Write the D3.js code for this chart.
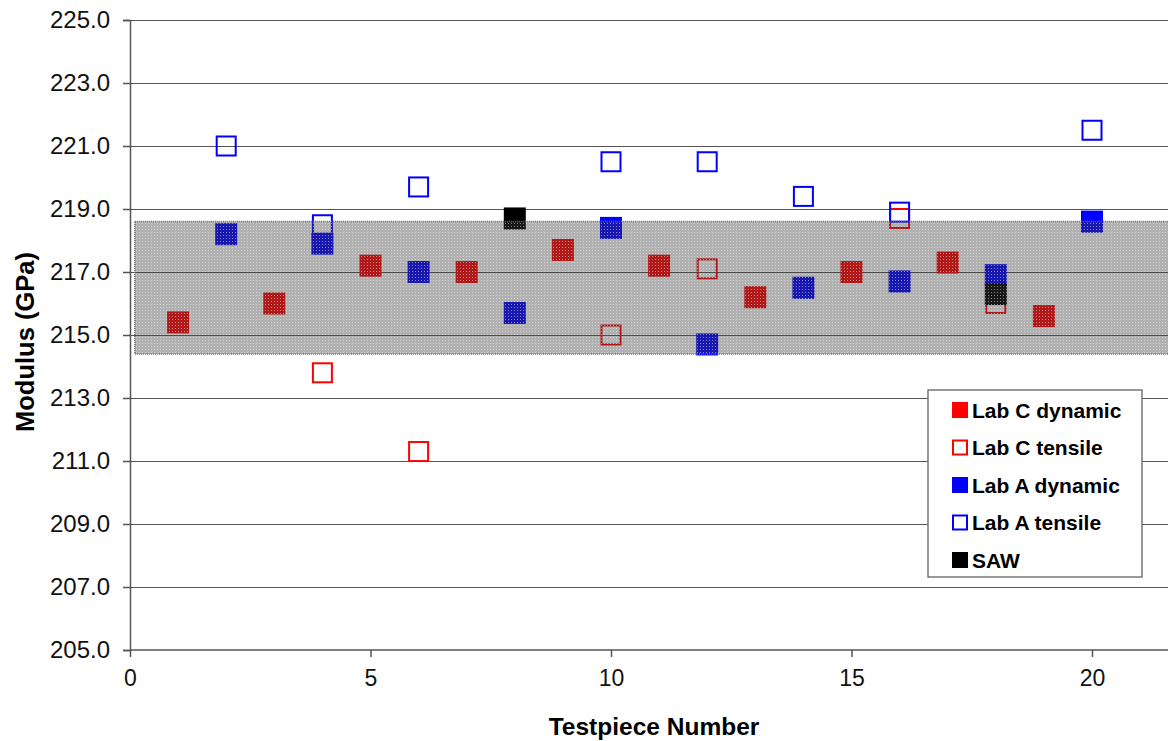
<!DOCTYPE html>
<html>
<head>
<meta charset="utf-8">
<script src="https://cdn.jsdelivr.net/npm/d3@7"></script>
<style>
  body { margin: 0; background: #fff; }
  svg { display: block; font-family: "Liberation Sans", Arial, sans-serif; }
</style>
</head>
<body>
<div id="my_dataviz"></div>
<script>
// Data
const labCDynamicX = [1, 3, 5, 7, 9, 11, 13, 15, 17, 19];
const labCDynamicY = [215.4, 216.0, 217.2, 217.0, 217.7, 217.2, 216.2, 217.0, 217.3, 215.6];

const labCTensileX = [4, 6, 10, 12, 16, 18];
const labCTensileY = [213.8, 211.3, 215.0, 217.1, 218.7, 216.0];

const labADynamicX = [2, 4, 6, 8, 10, 12, 14, 16, 18, 20];
const labADynamicY = [218.2, 217.9, 217.0, 215.7, 218.4, 214.7, 216.5, 216.7, 216.9, 218.6];

const labATensileX = [2, 4, 6, 10, 12, 14, 16, 20];
const labATensileY = [221.0, 218.5, 219.7, 220.5, 220.5, 219.4, 218.9, 221.5];

const sawX = [8, 18];
const sawY = [218.7, 216.3];

// shaded scatter band
const bandLow = 214.4;
const bandHigh = 218.6;
const bandStartX = 0.1;

const yTicks = [205, 207, 209, 211, 213, 215, 217, 219, 221, 223, 225];
const xTicks = [0, 5, 10, 15, 20];

const legendLabels = ["Lab C dynamic", "Lab C tensile", "Lab A dynamic", "Lab A tensile", "SAW"];

// Dimensions
const width = 1168;
const height = 741;
const margin = { top: 20, left: 130, bottom: 91 };

const x = d3.scaleLinear().domain([0, 22]).range([margin.left, margin.left + 22 * 48.1]);
const y = d3.scaleLinear().domain([205, 225]).range([height - margin.bottom, margin.top]);

const toPoints = (xs, ys) => xs.map((d, i) => ({ x: d, y: ys[i] }));

// draw order follows the original (tensile series underneath)
const series = [
  { name: "Lab C tensile", data: toPoints(labCTensileX, labCTensileY), color: "#ff0000", filled: false },
  { name: "Lab A tensile", data: toPoints(labATensileX, labATensileY), color: "#0000ff", filled: false },
  { name: "Lab C dynamic", data: toPoints(labCDynamicX, labCDynamicY), color: "#ff0000", filled: true },
  { name: "Lab A dynamic", data: toPoints(labADynamicX, labADynamicY), color: "#0000ff", filled: true },
  { name: "SAW", data: toPoints(sawX, sawY), color: "#000000", filled: true },
];
const styleByName = new Map(series.map((s) => [s.name, s]));

const svg = d3
  .select("#my_dataviz")
  .append("svg")
  .attr("width", width)
  .attr("height", height);

// dotted gray texture for the band
const defs = svg.append("defs");
const pattern = defs
  .append("pattern")
  .attr("id", "bandFill")
  .attr("patternUnits", "userSpaceOnUse")
  .attr("width", 3)
  .attr("height", 3);
pattern.append("rect").attr("width", 3).attr("height", 3).attr("fill", "rgba(60,60,60,0.40)");
pattern.append("rect").attr("x", 1).attr("y", 1).attr("width", 1).attr("height", 1).attr("fill", "rgba(255,255,255,0.45)");

// Gridlines
svg
  .append("g")
  .selectAll("line")
  .data(yTicks.filter((d) => d > 205))
  .join("line")
  .attr("x1", margin.left)
  .attr("x2", x(22))
  .attr("y1", (d) => Math.round(y(d)) + 0.5)
  .attr("y2", (d) => Math.round(y(d)) + 0.5)
  .style("stroke", "#555")
  .style("stroke-width", 1.2);

// Markers
series.forEach((s) => {
  const size = s.filled ? 22 : 19;
  svg
    .append("g")
    .selectAll("rect")
    .data(s.data)
    .join("rect")
    .attr("x", (d) => x(d.x) - size / 2)
    .attr("y", (d) => y(d.y) - size / 2)
    .attr("width", size)
    .attr("height", size)
    .style("fill", s.filled ? s.color : "none")
    .style("stroke", s.filled ? "none" : s.color)
    .style("stroke-width", 2);
});

// Band overlay
svg
  .append("rect")
  .attr("x", x(bandStartX))
  .attr("y", y(bandHigh))
  .attr("width", x(22) - x(bandStartX))
  .attr("height", y(bandLow) - y(bandHigh))
  .style("fill", "url(#bandFill)")
  .style("stroke", "#666")
  .style("stroke-width", 1.5)
  .style("stroke-dasharray", "1,1");

// Axes
const yAxis = svg
  .append("g")
  .attr("transform", `translate(${margin.left},0)`)
  .call(d3.axisLeft(y).tickValues(yTicks).tickFormat(d3.format(".1f")).tickSize(7).tickPadding(13));

const xAxis = svg
  .append("g")
  .attr("transform", `translate(0,${y(205)})`)
  .call(d3.axisBottom(x).tickValues(xTicks).tickFormat(d3.format("d")).tickSize(7).tickPadding(13));

[yAxis, xAxis].forEach((a) => {
  a.select(".domain").style("stroke", "#555").style("stroke-width", 1.5);
  a.selectAll(".tick line").style("stroke", "#555").style("stroke-width", 1.5);
  a.selectAll("text")
    .style("font-family", "'Liberation Sans', Arial, sans-serif")
    .style("fill", "#111");
});
yAxis.selectAll("text").style("font-size", "24px");
xAxis.selectAll("text").style("font-size", "23px");
xAxis.select(".domain").attr("d", `M${x(0)},0H${width + 30}`);

// Axis titles
svg
  .append("text")
  .attr("x", 654)
  .attr("y", 735)
  .attr("text-anchor", "middle")
  .style("font-size", "24.5px")
  .style("font-weight", "bold")
  .text("Testpiece Number");

svg
  .append("text")
  .attr("transform", "translate(34,342) rotate(-90)")
  .attr("text-anchor", "middle")
  .style("font-size", "25.5px")
  .style("font-weight", "bold")
  .text("Modulus (GPa)");

// Legend
const legend = svg.append("g").attr("transform", "translate(928,390)");
legend
  .append("rect")
  .attr("width", 214)
  .attr("height", 187)
  .style("fill", "#fff")
  .style("stroke", "#777")
  .style("stroke-width", 1.5);

const item = legend
  .selectAll("g.item")
  .data(legendLabels)
  .join("g")
  .attr("class", "item")
  .attr("transform", (d, i) => `translate(0,${20 + i * 37.5})`);

item
  .append("rect")
  .attr("x", (d) => (styleByName.get(d).filled ? 24 : 25))
  .attr("y", (d) => (styleByName.get(d).filled ? -8 : -7))
  .attr("width", (d) => (styleByName.get(d).filled ? 16 : 14))
  .attr("height", (d) => (styleByName.get(d).filled ? 16 : 14))
  .style("fill", (d) => (styleByName.get(d).filled ? styleByName.get(d).color : "#fff"))
  .style("stroke", (d) => (styleByName.get(d).filled ? "none" : styleByName.get(d).color))
  .style("stroke-width", 2);

item
  .append("text")
  .attr("x", 44)
  .attr("dy", "0.36em")
  .style("font-size", "21px")
  .style("font-weight", "bold")
  .text((d) => d);
</script>
</body>
</html>
